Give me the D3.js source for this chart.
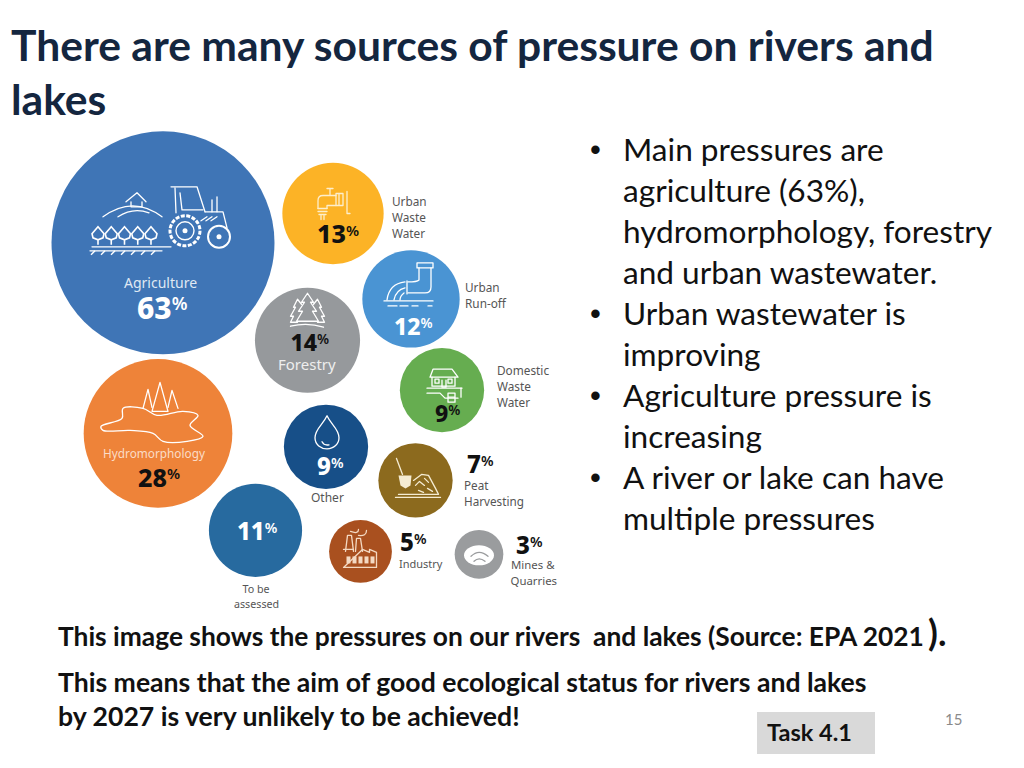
<!DOCTYPE html>
<html>
<head>
<meta charset="utf-8">
<style>
  html, body { margin: 0; padding: 0; background: #fff; }
  text { font-kerning: normal; }
</style>
<script src="https://cdn.jsdelivr.net/npm/d3@7"></script>
</head>
<body>
<div id="chart"></div>
<script>
// values
const pressures = ["Agriculture", "Hydromorphology", "Forestry", "Urban Waste Water", "Urban Run-off", "To be assessed", "Domestic Waste Water", "Other", "Peat Harvesting", "Industry", "Mines & Quarries"]
const percents = [63, 28, 14, 13, 12, 11, 9, 9, 7, 5, 3]
const colours = ["#3f75b6", "#ee8339", "#96999c", "#fcb326", "#4a94d3", "#276a9f", "#66ad50", "#174f88", "#8c6a1e", "#a9501f", "#9a9c9e"]

// where each bubble sits, in percent of the bubble area
const layoutX = [24.6, 23.6, 53.5, 58.6, 74.2, 43.1, 80.4, 57.2, 75.1, 64.1, 87.8]
const layoutY = [23.5, 63.2, 43.8, 17.4, 35.2, 83.4, 54.2, 66.0, 73.0, 87.8, 88.4]

const title = ["There are many sources of pressure on rivers and", "lakes"]
const bullets = [
  ["Main pressures are", "agriculture (63%),", "hydromorphology, forestry", "and urban wastewater."],
  ["Urban wastewater is", "improving"],
  ["Agriculture pressure is", "increasing"],
  ["A river or lake can have", "multiple pressures"]
]

const w = 1024
const h = 768
const bodyFont = "Lato, 'Open Sans', sans-serif"
const bubbleFont = "'Noto Sans', 'Open Sans', sans-serif"

const svg = d3.select("#chart")
  .append("svg")
  .attr("width", w)
  .attr("height", h)
  .style("display", "block")

svg.selectAll(".title")
  .data(title)
  .enter()
  .append("text")
  .attr("class", "title")
  .attr("x", 11)
  .attr("y", (d, i) => 61 + i * 54)
  .attr("font-family", bodyFont)
  .attr("font-weight", 700)
  .attr("font-size", 42.6)
  .attr("fill", "#14263f")
  .text(d => d)

// bubbles: radius is a sqrt scale of the percent, so area follows the value
const xScale = d3.scaleLinear().domain([0, 100]).range([40, 540])
const yScale = d3.scaleLinear().domain([0, 100]).range([130, 610])
const rScale = d3.scaleSqrt().domain([0, 63]).range([0, 111.5])

const bubbles = pressures.map((name, i) => ({
  name: name,
  value: percents[i],
  colour: colours[i],
  x: xScale(layoutX[i]),
  y: yScale(layoutY[i])
}))

svg.selectAll("circle.bubble")
  .data(bubbles)
  .enter()
  .append("circle")
  .attr("class", "bubble")
  .attr("cx", d => d.x)
  .attr("cy", d => d.y)
  .attr("r", d => rScale(d.value))
  .attr("fill", d => d.colour)

// label text per bubble, offsets from the bubble centre
const grey = "#555"
const labelStyle = {
  "Agriculture": { pct: [-26, 76, 30, "#fff"], lines: [["Agriculture", -39, 45, 14, "#dfe8f3"]] },
  "Hydromorphology": { pct: [-20, 53.5, 25, "#111"], lines: [["Hydromorphology", -55, 24.5, 11.8, "#fbdcc6"]] },
  "Forestry": { pct: [-17, 11, 23, "#111"], lines: [["Forestry", -29.5, 30, 15, "#eeeeee"]] },
  "Urban Waste Water": { pct: [-16, 29.5, 25, "#111"], lines: [["Urban", 59, -8, 11.8, grey], ["Waste", 59, 8, 11.8, grey], ["Water", 59, 24, 11.8, grey]] },
  "Urban Run-off": { pct: [-17, 36, 23, "#fff"], lines: [["Urban", 54, -7, 11.8, grey], ["Run-off", 54, 9, 11.8, grey]] },
  "To be assessed": { pct: [-18.5, 9.5, 24, "#fff"], lines: [["To be", -13, 62.5, 10.7, grey], ["assessed", -21.5, 77.5, 10.7, grey]] },
  "Domestic Waste Water": { pct: [-7, 32, 23, "#111"], lines: [["Domestic", 55, -15, 11.8, grey], ["Waste", 55, 1, 11.8, grey], ["Water", 55, 17, 11.8, grey]] },
  "Other": { pct: [-9, 28, 24, "#fff"], lines: [["Other", -15, 55, 12, grey]] },
  "Peat Harvesting": { pct: [51.5, -7.5, 24, "#111"], lines: [["Peat", 48.5, 9.5, 11.7, grey], ["Harvesting", 48.5, 25.5, 11.7, grey]] },
  "Industry": { pct: [39.5, -0.5, 24, "#111"], lines: [["Industry", 38.5, 16.5, 11, grey]] },
  "Mines & Quarries": { pct: [37, -0.5, 24, "#111"], lines: [["Mines &", 32, 14.5, 11.4, grey], ["Quarries", 31.5, 30.5, 11.4, grey]] }
}

const labels = svg.selectAll("g.label")
  .data(bubbles)
  .enter()
  .append("g")
  .attr("class", "label")
  .attr("transform", d => `translate(${d.x},${d.y})`)

labels.each(function (d) {
  const g = d3.select(this)
  const s = labelStyle[d.name]
  const t = g.append("text")
    .attr("x", s.pct[0])
    .attr("y", s.pct[1])
    .attr("font-family", bubbleFont)
    .attr("font-weight", 800)
    .attr("font-size", s.pct[2])
    .attr("fill", s.pct[3])
  t.append("tspan").text(d.value)
  t.append("tspan")
    .attr("font-size", s.pct[2] * 0.6)
    .attr("font-weight", 600)
    .attr("dy", -s.pct[2] * 0.3)
    .text("%")
  s.lines.forEach(l => {
    g.append("text")
      .attr("x", l[1])
      .attr("y", l[2])
      .attr("font-family", bubbleFont)
      .attr("font-size", l[3])
      .attr("fill", l[4])
      .text(l[0])
  })
})

// icons, line art in each bubble's own coordinates
const lakeOutline = d3.line().curve(d3.curveCatmullRomClosed.alpha(0.5))([
  [-57, -7], [-36, -15], [-35, -25], [-15, -25], [-1, -18], [25, -22], [40, -18],
  [32, -8], [45, 3], [29, 8], [5, 8], [-5, 0], [-28, -3], [-55, -3]
])

const icons = {
  "Agriculture": [
    "M-60 -26 Q-30 -48 -1 -26", "M-45 -26 Q-30 -36 -14 -30",
    "M-37 -41 L-26 -50 L-17 -41 M-32 -41 V-36 H-21 V-41",
    "M-71 4 H8", "M-73 8 H-1",
    "M8 -56 H34 L42 -31", "M12 -55 L13 -30", "M17 -50 L19 -33 H40",
    "M42 -31 H60 L64 -15", "M49 -31 V-43 M54 -46 V-31", "M38 -22 L44 -26 M43 -22 L49 -26 M48 -22 L54 -26"
  ],
  "Hydromorphology": [
    lakeOutline,
    "M-6 -22 L2 -51 L10 -22 Z", "M-15 -25 L-10 -44 L-6 -26", "M10 -26 L14 -43 L20 -25"
  ],
  "Forestry": [
    "M0 -47 L6 -38 L3 -38 L9 -29 L5 -29 L11 -19 L-11 -19 L-5 -29 L-9 -29 L-3 -38 L-6 -38 Z",
    "M-6 -36 L-10 -41 L-14 -33 L-12 -33 L-17 -24 L-14 -24 L-17 -18 L-10 -18",
    "M6 -36 L10 -41 L14 -33 L12 -33 L17 -24 L14 -24 L17 -18 L10 -18",
    "M-17 -14 Q0 -18 16 -13"
  ],
  "Urban Waste Water": [
    "M-6 -25 H0 M-3 -25 V-19", "M-15 -5 V-13 Q-15 -18 -10 -18 H3", "M-6 -5 V-8 H3",
    "M3 -20 H10 V-8 H3 Z M6 -20 V-8", "M14 -22 V0 H17",
    "M-15 -5 H-6 M-15 -2 H-6 M-14 1 H-7", "M-12 2 V6 M-9 2 V6"
  ],
  "Urban Run-off": [
    "M6 -36 H22 V-31 H6 Z", "M8 -31 V-19 Q6 -17 -3 -17", "M20 -31 V-12 Q20 -6 14 -6 H-3", "M-4 -18 V-5",
    "M-6 -17 Q-22 -15 -24 1", "M-6 -11 Q-15 -9 -17 1", "M-7 -6 Q-11 -3 -11 1",
    "M-27 2 H22", "M-23 7 H-14 M-11 7 H-3 M1 7 H7 M17 7 H21"
  ],
  "Domestic Waste Water": [
    "M-12 -13 L-9 -21 H10 L16 -13 Z", "M-10 -13 V-4 H13 V-13", "M-7 -11 H-3 V-7 H-7 Z M6 -11 H10 V-7 H6 Z", "M0 -10 V-3 H4 V-10",
    "M-15 -2 H20", "M-15 3 H-2 L3 8 H16", "M6 3 H13 V12 H6 Z M6 7 H13", "M19 -2 V7"
  ],
  "Other": [
    "M1 -31 C-3 -22 -11 -18 -11 -9 C-11 -2 -5 2 1 2 C8 2 13 -3 13 -9 C13 -18 5 -22 1 -31 Z",
    "M-4 -5 Q-2 -1 3 -2"
  ],
  "Peat Harvesting": [
    "M-19 -22 L-13 -6", "M-20 17 H25", "M-17 14 H22",
    "M-2 0 L6 -6 L13 -5 L20 8 L23 14", "M0 5 L4 1 L9 5 M9 -2 L13 2 M12 8 L17 11 M3 10 L8 12"
  ],
  "Industry": [
    "M-15 0 L-13 -16 H-9 L-7 0", "M-5 0 L-4 -13 H0 L2 0",
    "M-17 -2 H-7 M2 -2 L9 1 V-2 L16 1 V16 H-17 Z",
    "M-10 -20 Q-2 -17 -2 -22 M-2 -16 Q6 -15 6 -21"
  ],
  "Mines & Quarries": [
    "M-8 2 Q0 -6 9 2", "M-5 7 Q0 2 6 7"
  ]
}

const iconStroke = {
  "Urban Waste Water": "#fdeecb",
  "Peat Harvesting": "#f5ecd3",
  "Industry": "#f4d9c2",
  "Mines & Quarries": "#9a9c9e"
}

labels.each(function (d) {
  d3.select(this).selectAll("path")
    .data(icons[d.name] || [])
    .enter()
    .append("path")
    .attr("d", p => p)
    .attr("fill", "none")
    .attr("stroke", iconStroke[d.name] || "#fff")
    .attr("stroke-width", 1.3)
    .attr("stroke-linejoin", "round")
    .attr("stroke-linecap", "round")
})

// agriculture extras: tractor wheels and the row of trees
const agri = labels.filter(d => d.name === "Agriculture")
const treeAt = d3.scalePoint().domain(d3.range(5)).range([-65, -12])
agri.selectAll("path.tree")
  .data(d3.range(5))
  .enter()
  .append("path")
  .attr("class", "tree")
  .attr("d", i => `M${treeAt(i)} -16 l6 7 l-1 4 l-5 2 l-5 -2 l-1 -4 Z M${treeAt(i)} -3 v5`)
  .attr("fill", "none")
  .attr("stroke", "#fff")
  .attr("stroke-width", 1.6)
agri.selectAll("path.hatch")
  .data(d3.range(7))
  .enter()
  .append("path")
  .attr("class", "hatch")
  .attr("d", i => `M${-68 + i * 10} 8 l-4 4`)
  .attr("stroke", "#fff")
  .attr("stroke-width", 1.4)
agri.append("circle").attr("cx", 22).attr("cy", -12).attr("r", 15).attr("fill", "none").attr("stroke", "#fff").attr("stroke-width", 3).attr("stroke-dasharray", "4 1.5")
agri.append("circle").attr("cx", 22).attr("cy", -12).attr("r", 9).attr("fill", "none").attr("stroke", "#fff").attr("stroke-width", 1.4)
agri.append("circle").attr("cx", 22).attr("cy", -12).attr("r", 2.5).attr("fill", "#fff")
agri.append("circle").attr("cx", 56).attr("cy", -6).attr("r", 11).attr("fill", "none").attr("stroke", "#fff").attr("stroke-width", 2)
agri.append("circle").attr("cx", 56).attr("cy", -6).attr("r", 2.5).attr("fill", "#fff")

// filled parts of the smaller icons
labels.filter(d => d.name === "Peat Harvesting")
  .append("path")
  .attr("d", "M-17 -5 H-4 L-5 5 L-10 8 L-15 5 Z")
  .attr("fill", "#f5ecd3")

const windowAt = d3.scalePoint().domain(d3.range(5)).range([-14, 10])
labels.filter(d => d.name === "Industry")
  .selectAll("rect.window")
  .data(d3.range(5))
  .enter()
  .append("rect")
  .attr("class", "window")
  .attr("x", i => windowAt(i))
  .attr("y", 5)
  .attr("width", 4)
  .attr("height", 7)
  .attr("fill", "#f4d9c2")

labels.filter(d => d.name === "Mines & Quarries")
  .append("ellipse")
  .attr("cy", 1)
  .attr("rx", 15)
  .attr("ry", 10)
  .attr("fill", "#fff")
  .lower()

// bullet list on the right
let row = 0
bullets.forEach(lines => {
  svg.append("text")
    .attr("x", 590)
    .attr("y", 160 + row * 41)
    .attr("font-family", "'Liberation Sans', sans-serif")
    .attr("font-size", 31)
    .attr("fill", "#111")
    .text("•")
  lines.forEach(line => {
    svg.append("text")
      .attr("x", 623)
      .attr("y", 161 + row * 41)
      .attr("font-family", bodyFont)
      .attr("font-size", 31.6)
      .attr("fill", "#111")
      .text(line)
    row += 1
  })
})

// captions under the chart
const captions = [
  ["This image shows the pressures on our rivers  and lakes (Source: EPA 2021", 58, 646, 26.35],
  ["This means that the aim of good ecological status for rivers and lakes", 58, 692, 26.6],
  ["by 2027 is very unlikely to be achieved!", 58, 726, 26.6]
]
svg.selectAll(".caption")
  .data(captions)
  .enter()
  .append("text")
  .attr("class", "caption")
  .attr("x", d => d[1])
  .attr("y", d => d[2])
  .attr("font-family", bodyFont)
  .attr("font-weight", 700)
  .attr("font-size", d => d[3])
  .attr("fill", "#111")
  .style("white-space", "pre")
  .text(d => d[0])

svg.append("text")
  .attr("x", 928)
  .attr("y", 646)
  .attr("font-family", bodyFont)
  .attr("font-weight", 700)
  .attr("font-size", 36)
  .attr("fill", "#111")
  .text(").")

svg.append("rect")
  .attr("x", 757)
  .attr("y", 712)
  .attr("width", 118)
  .attr("height", 42)
  .attr("fill", "#d9d9d9")
svg.append("text")
  .attr("x", 767)
  .attr("y", 741)
  .attr("font-family", bodyFont)
  .attr("font-weight", 700)
  .attr("font-size", 23.5)
  .attr("fill", "#111")
  .text("Task 4.1")

svg.append("text")
  .attr("x", 945)
  .attr("y", 725)
  .attr("font-family", bodyFont)
  .attr("font-size", 15)
  .attr("fill", "#8a8a8a")
  .text("15")
</script>
</body>
</html>
